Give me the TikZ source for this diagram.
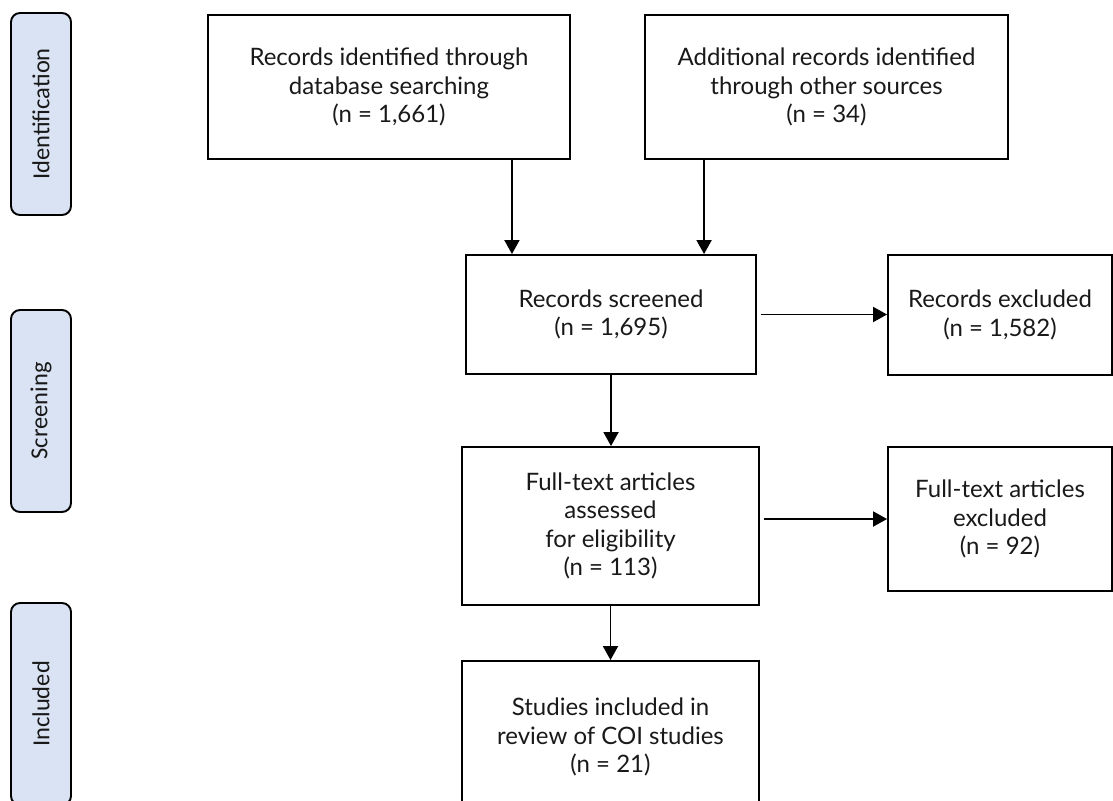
\documentclass[tikz,border=0pt]{standalone}
\usepackage{fontspec}
\setmainfont{Lato}
\newfontfamily\sidefont{Carlito}
\usetikzlibrary{arrows.meta,calc}
\definecolor{sidefill}{HTML}{DAE3F3}
\tikzset{
  box/.style={draw=black, line width=1.9pt, rectangle, align=center, inner sep=0pt,
    font=\fontsize{24}{28.5}\selectfont, text=black!90},
  side/.style={draw=black, line width=1.9pt, rounded corners=9pt, fill=sidefill,
    minimum width=202pt, minimum height=60pt, inner sep=0pt, rotate=90,
    font=\sidefont\fontsize{24.5}{30}\selectfont, text=black!90},
  arr/.style={line width=1.9pt, -{Triangle[length=14pt,width=15pt]}}
}
\begin{document}
\begin{tikzpicture}[x=1pt,y=-1pt]
\useasboundingbox (0,0) rectangle (1113,800);
\clip (0,0) rectangle (1113,800);
% side labels
\node[side] (sid) at (41,114) {Identification};
\node[side] (sscr) at (41,411) {Screening};
\node[side] (sinc) at (41,704) {Included};
% boxes
\node[box, minimum width=362pt, minimum height=144pt] (b1) at (389,87)
  {Records identified through\\database searching\\(n = 1,661)};
\node[box, minimum width=363pt, minimum height=144pt] (b2) at (826.5,87)
  {Additional records identified\\through other sources\\(n = 34)};
\node[box, minimum width=290pt, minimum height=119pt] (scr) at (611,314.5)
  {Records screened\\(n = 1,695)};
\node[box, minimum width=224pt, minimum height=120pt] (ex1) at (1000,315)
  {Records excluded\\(n = 1,582)};
\node[box, minimum width=297pt, minimum height=158pt] (full) at (610.5,526)
  {Full-text articles\\assessed\\for eligibility\\(n = 113)};
\node[box, minimum width=224pt, minimum height=144pt] (ex2) at (1000,519)
  {Full-text articles\\excluded\\(n = 92)};
\node[box, minimum width=297pt, minimum height=152pt] (inc) at (610.5,737)
  {Studies included in\\review of COI studies\\(n = 21)};
% arrows
\draw[arr] ([xshift=-59pt]b1.south east) -- ([xshift=-59pt]b1.south east |- scr.north);
\draw[arr] ([xshift=60pt]b2.south west) -- ([xshift=60pt]b2.south west |- scr.north);
\draw[arr] ([xshift=4pt]scr.east) -- (scr.east -| ex1.west);
\draw[arr] (scr.south) -- (scr.south |- full.north);
\draw[arr] ([xshift=4pt]full.east |- ex2.west) -- (ex2.west);
\draw[arr] (full.south) -- (full.south |- inc.north);
\end{tikzpicture}
\end{document}
